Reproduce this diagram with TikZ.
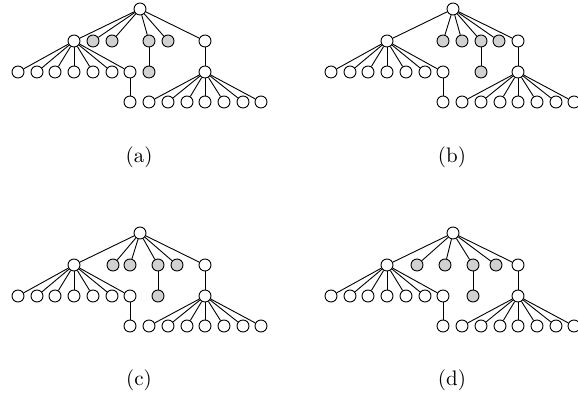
\documentclass[tikz,border=0pt]{standalone}
\usepackage{amsmath}
\usepackage{amssymb}

\begin{document}
\begin{tikzpicture}[x=0.5pt, y=-0.5pt, every node/.style={circle, draw=black, fill=white, inner sep=0pt, minimum size=6pt, line width=0.45pt}, every edge/.style={draw=black, line width=0.45pt}, shaded/.style={fill=black!18}, caption/.style={draw=none, fill=none, font=\fontsize{10.5}{12}\selectfont}]
\useasboundingbox (0,0) rectangle (578,399);

% (a)
\begin{scope}
\node (a-r) at (140,9){};
\node (a-l) at (74,41){};
\node[shaded] (a-g1) at (93,41){};
\node[shaded] (a-g2) at (112,41){};
\node[shaded] (a-g3) at (149,41){};
\node[shaded] (a-g4) at (168,41){};
\node (a-w) at (205,41){};
\foreach \x [count=\i] in {18,37,55,74,93,112,130} \node (a-l\i) at (\x,72){};
\node[shaded] (a-s) at (149,72){};
\node (a-c) at (205,72){};
\node (a-d) at (130,102){};
\foreach \x [count=\i] in {149,168,187,205,224,243,261} \node (a-c\i) at (\x,102){};
\node[caption] (a-lab) at (139,157){(a)};
\path (a-r) edge (a-l) edge (a-g1) edge (a-g2) edge (a-g3) edge (a-g4) edge (a-w);
\foreach \i in {1,...,7} \path (a-l) edge (a-l\i) (a-c) edge (a-c\i);
\path (a-l7) edge (a-d) (a-g3) edge (a-s) (a-w) edge (a-c);
\end{scope}

% (b)
\begin{scope}[shift={(313,0)}]
\node (b-r) at (140,9){};
\node (b-l) at (74,41){};
\node[shaded] (b-g1) at (130,41){};
\node[shaded] (b-g2) at (149,41){};
\node[shaded] (b-g3) at (168,41){};
\node[shaded] (b-g4) at (186,41){};
\node (b-w) at (205,41){};
\foreach \x [count=\i] in {18,37,55,74,93,112,130} \node (b-l\i) at (\x,72){};
\node[shaded] (b-s) at (168,72){};
\node (b-c) at (205,72){};
\node (b-d) at (130,102){};
\foreach \x [count=\i] in {149,168,187,205,224,243,261} \node (b-c\i) at (\x,102){};
\node[caption] (b-lab) at (139,157){(b)};
\path (b-r) edge (b-l) edge (b-g1) edge (b-g2) edge (b-g3) edge (b-g4) edge (b-w);
\foreach \i in {1,...,7} \path (b-l) edge (b-l\i) (b-c) edge (b-c\i);
\path (b-l7) edge (b-d) (b-g3) edge (b-s) (b-w) edge (b-c);
\end{scope}

% (c)
\begin{scope}[shift={(0,224)}]
\node (c-r) at (140,9){};
\node (c-l) at (74,41){};
\node[shaded] (c-g1) at (113,41){};
\node[shaded] (c-g2) at (130,41){};
\node[shaded] (c-g3) at (158,41){};
\node[shaded] (c-g4) at (177,41){};
\node (c-w) at (205,41){};
\foreach \x [count=\i] in {18,37,55,74,93,112,130} \node (c-l\i) at (\x,72){};
\node[shaded] (c-s) at (158,72){};
\node (c-c) at (205,72){};
\node (c-d) at (130,102){};
\foreach \x [count=\i] in {149,168,187,205,224,243,261} \node (c-c\i) at (\x,102){};
\node[caption] (c-lab) at (139,156){(c)};
\path (c-r) edge (c-l) edge (c-g1) edge (c-g2) edge (c-g3) edge (c-g4) edge (c-w);
\foreach \i in {1,...,7} \path (c-l) edge (c-l\i) (c-c) edge (c-c\i);
\path (c-l7) edge (c-d) (c-g3) edge (c-s) (c-w) edge (c-c);
\end{scope}

% (d)
\begin{scope}[shift={(313,224)}]
\node (d-r) at (140,9){};
\node (d-l) at (74,41){};
\node[shaded] (d-g1) at (104,41){};
\node[shaded] (d-g2) at (132,41){};
\node[shaded] (d-g3) at (160,41){};
\node[shaded] (d-g4) at (183,41){};
\node (d-w) at (205,41){};
\foreach \x [count=\i] in {18,37,55,74,93,112,130} \node (d-l\i) at (\x,72){};
\node[shaded] (d-s) at (160,72){};
\node (d-c) at (205,72){};
\node (d-d) at (130,102){};
\foreach \x [count=\i] in {149,168,187,205,224,243,261} \node (d-c\i) at (\x,102){};
\node[caption] (d-lab) at (139,156){(d)};
\path (d-r) edge (d-l) edge (d-g1) edge (d-g2) edge (d-g3) edge (d-g4) edge (d-w);
\foreach \i in {1,...,7} \path (d-l) edge (d-l\i) (d-c) edge (d-c\i);
\path (d-l7) edge (d-d) (d-g3) edge (d-s) (d-w) edge (d-c);
\end{scope}
\end{tikzpicture}
\end{document}
